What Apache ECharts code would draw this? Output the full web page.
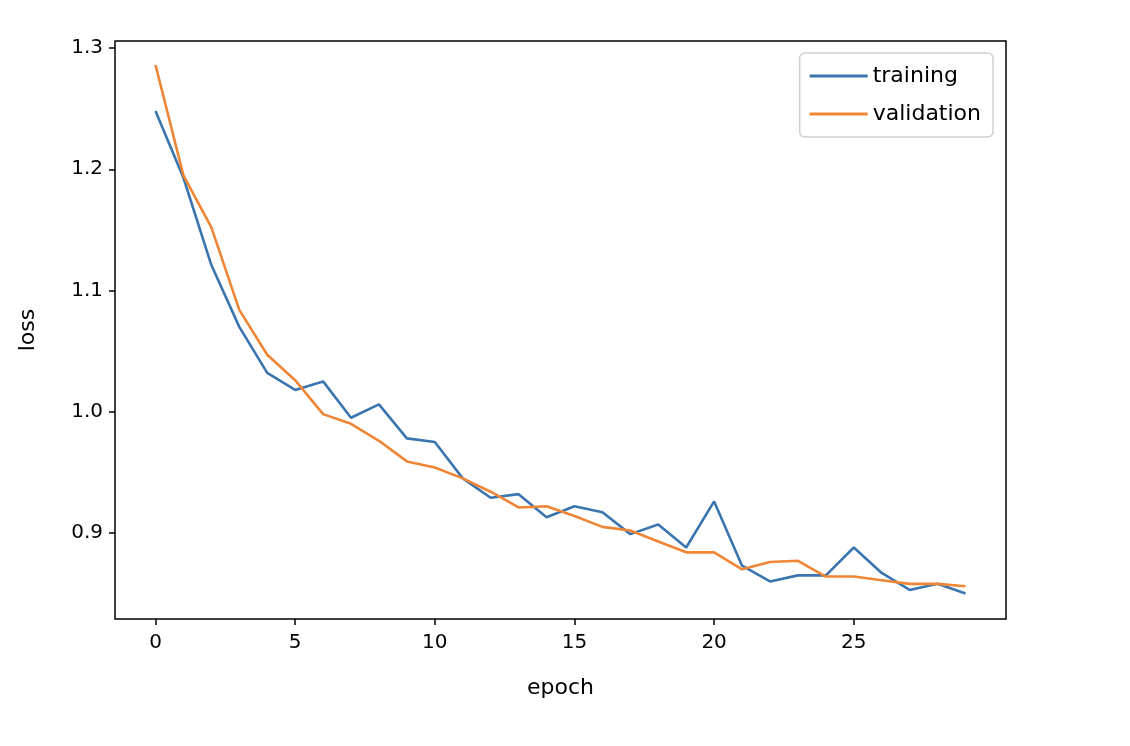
<!DOCTYPE html>
<html>
<head>
<meta charset="utf-8">
<script src="https://cdn.jsdelivr.net/npm/echarts@6/dist/echarts.min.js"></script>
<style>html,body{margin:0;padding:0;background:#fff}#chart{width:1130px;height:746px}</style>
</head>
<body>
<div id="chart"></div>
<script>
// 数值
const epochs = Array.from({ length: 30 }, (_, i) => i);
const training = [1.248, 1.193, 1.121, 1.070, 1.032, 1.018, 1.025, 0.995, 1.006, 0.978,
  0.975, 0.945, 0.929, 0.932, 0.913, 0.922, 0.917, 0.899, 0.907, 0.888,
  0.926, 0.873, 0.860, 0.865, 0.865, 0.888, 0.867, 0.853, 0.858, 0.850];
const validation = [1.286, 1.195, 1.152, 1.084, 1.047, 1.026, 0.998, 0.990, 0.976, 0.959,
  0.954, 0.945, 0.934, 0.921, 0.922, 0.914, 0.905, 0.902, 0.893, 0.884,
  0.884, 0.870, 0.876, 0.877, 0.864, 0.864, 0.861, 0.858, 0.858, 0.856];
const xTicks = [0, 5, 10, 15, 20, 25];
const yTicks = [0.9, 1.0, 1.1, 1.2, 1.3];

const chart = echarts.init(document.getElementById("chart"));
const font = "DejaVu Sans";

chart.setOption({
  animation: false,
  textStyle: { fontFamily: font },
  grid: { left: 115, right: 124, top: 41, bottom: 127, show: true, borderColor: "#000", borderWidth: 1.5 },
  legend: {
    right: 137, top: 53, orient: "vertical",
    backgroundColor: "#fff", borderColor: "#d0d0d0", borderWidth: 1.5, borderRadius: 5,
    padding: [12, 12, 12, 10], itemGap: 16, itemWidth: 58, itemHeight: 3,
    textStyle: { fontSize: 22, color: "#000", fontFamily: font },
    data: [{ name: "training", icon: "rect" }, { name: "validation", icon: "rect" }]
  },
  xAxis: {
    type: "value", min: -1.45, max: 30.45,
    name: "epoch", nameLocation: "middle", nameGap: 58,
    nameTextStyle: { fontSize: 22, color: "#000" },
    axisLine: { show: false, onZero: false },
    splitLine: { show: false },
    axisTick: { show: true, length: 6, lineStyle: { color: "#000", width: 1.5 }, customValues: xTicks },
    axisLabel: { fontSize: 20, color: "#000", margin: 14, customValues: xTicks, formatter: v => String(v) }
  },
  yAxis: {
    type: "value", min: 0.829, max: 1.3058,
    name: "loss", nameLocation: "middle", nameGap: 76,
    nameTextStyle: { fontSize: 22, color: "#000" },
    axisLine: { show: false, onZero: false },
    splitLine: { show: false },
    axisTick: { show: true, length: 6, lineStyle: { color: "#000", width: 1.5 }, customValues: yTicks },
    axisLabel: { fontSize: 20, color: "#000", margin: 12, customValues: yTicks, formatter: v => v.toFixed(1) }
  },
  series: [
    { name: "training", type: "line", showSymbol: false, color: "#3b75af",
      lineStyle: { width: 2.6 }, data: epochs.map((e, i) => [e, training[i]]) },
    { name: "validation", type: "line", showSymbol: false, color: "#ef8636",
      lineStyle: { width: 2.6 }, data: epochs.map((e, i) => [e, validation[i]]) }
  ]
});
</script>
</body>
</html>
